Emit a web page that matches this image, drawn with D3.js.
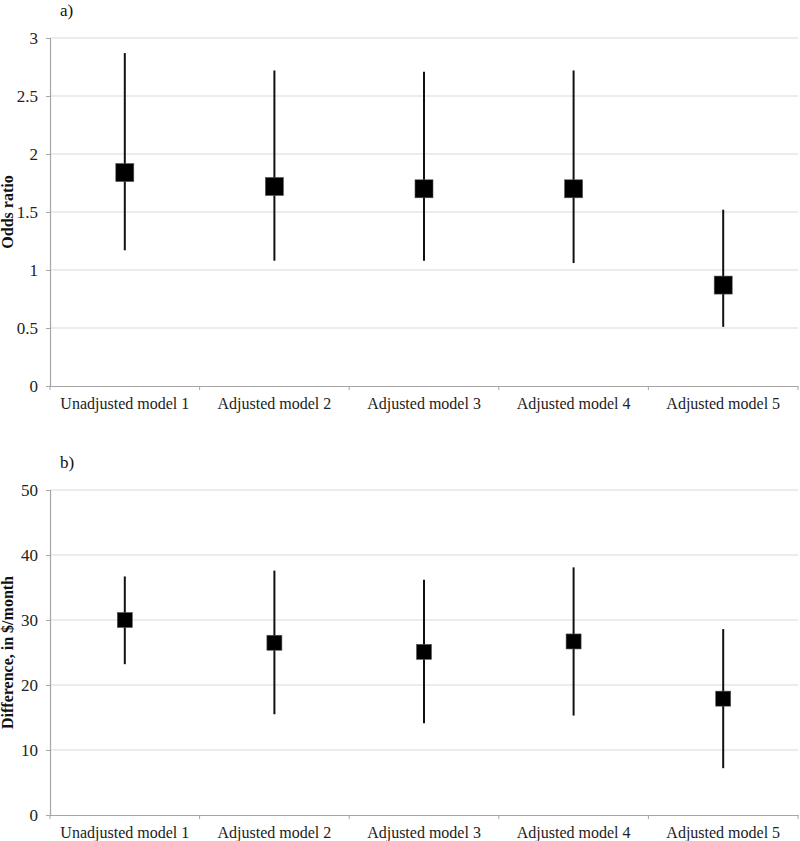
<!DOCTYPE html>
<html>
<head>
<meta charset="utf-8">
<script src="https://cdn.jsdelivr.net/npm/d3@7"></script>
<style>
  body { margin: 0; background: #fff; }
  text { font-family: 'Liberation Serif', 'Times New Roman', serif; }
</style>
</head>
<body>
<div id="chart"></div>
<script>
const models = ['Unadjusted model 1', 'Adjusted model 2', 'Adjusted model 3', 'Adjusted model 4', 'Adjusted model 5'];

// panel a) odds ratio
const orEst = [1.84, 1.72, 1.70, 1.70, 0.87];
const orLow = [1.17, 1.08, 1.08, 1.06, 0.51];
const orHigh = [2.87, 2.72, 2.71, 2.72, 1.52];
const orTicks = [0, 0.5, 1, 1.5, 2, 2.5, 3];

// panel b) difference in $/month
const diffEst = [30.0, 26.5, 25.1, 26.7, 17.9];
const diffLow = [23.2, 15.5, 14.1, 15.3, 7.2];
const diffHigh = [36.7, 37.6, 36.2, 38.1, 28.6];
const diffTicks = [0, 10, 20, 30, 40, 50];

const width = 800, height = 841;
const svg = d3.select('#chart').append('svg')
    .attr('width', width)
    .attr('height', height);

const x = d3.scaleBand()
    .domain(models)
    .range([50, 798]);

function drawPanel(opts) {
    const y = d3.scaleLinear()
        .domain([0, opts.max])
        .range([opts.bottom, opts.top]);

    const g = svg.append('g');

    // gridlines
    g.selectAll('line.grid')
        .data(opts.ticks.filter(d => d > 0))
        .enter().append('line')
        .attr('class', 'grid')
        .attr('x1', 50)
        .attr('x2', 798)
        .attr('y1', d => y(d))
        .attr('y2', d => y(d))
        .attr('stroke', '#d9d9d9')
        .attr('stroke-width', 1.2);

    // y axis
    const yAxis = g.append('g')
        .attr('transform', 'translate(50,0)')
        .call(d3.axisLeft(y).tickValues(opts.ticks).tickSize(4).tickPadding(8).tickFormat(d3.format('')));
    yAxis.select('.domain').attr('stroke', '#a6a6a6').attr('stroke-width', 1.2);
    yAxis.selectAll('.tick line').attr('stroke', '#a6a6a6');
    yAxis.selectAll('.tick text')
        .attr('font-family', "'Liberation Serif', serif")
        .attr('font-size', 17)
        .attr('fill', '#222');

    // x axis
    const xAxis = g.append('g')
        .attr('transform', `translate(0,${opts.bottom})`)
        .call(d3.axisBottom(x).tickSize(0).tickPadding(12).tickSizeOuter(0));
    xAxis.select('.domain').attr('stroke', '#a6a6a6').attr('stroke-width', 1.2);
    xAxis.selectAll('.tick text')
        .attr('font-family', "'Liberation Serif', serif")
        .attr('font-size', 16)
        .attr('fill', '#222');

    // category boundary ticks
    g.selectAll('line.bound')
        .data(models.concat(['end']))
        .enter().append('line')
        .attr('class', 'bound')
        .attr('x1', (d, i) => i < models.length ? x(d) : x(models[models.length - 1]) + x.bandwidth())
        .attr('x2', (d, i) => i < models.length ? x(d) : x(models[models.length - 1]) + x.bandwidth())
        .attr('y1', opts.bottom)
        .attr('y2', opts.bottom + 4)
        .attr('stroke', '#a6a6a6');

    // error bars
    const cx = d => x(d) + x.bandwidth() / 2;
    g.selectAll('line.err')
        .data(models)
        .enter().append('line')
        .attr('class', 'err')
        .attr('x1', cx)
        .attr('x2', cx)
        .attr('y1', (d, i) => y(opts.low[i]))
        .attr('y2', (d, i) => y(opts.high[i]))
        .attr('stroke', '#111')
        .attr('stroke-width', 2);

    // point estimates
    const s = opts.size;
    g.selectAll('rect.pt')
        .data(models)
        .enter().append('rect')
        .attr('class', 'pt')
        .attr('x', d => cx(d) - s / 2)
        .attr('y', (d, i) => y(opts.est[i]) - s / 2)
        .attr('width', s)
        .attr('height', s)
        .attr('fill', '#000')
        .attr('stroke', '#555')
        .attr('stroke-width', 0.6);

    // y title
    svg.append('text')
        .attr('transform', `translate(13,${(opts.top + opts.bottom) / 2}) rotate(-90)`)
        .attr('text-anchor', 'middle')
        .attr('font-size', 16)
        .attr('font-weight', 'bold')
        .attr('fill', '#111')
        .text(opts.title);

    // panel letter
    svg.append('text')
        .attr('x', 60)
        .attr('y', opts.top - 22)
        .attr('font-size', 17)
        .attr('fill', '#111')
        .text(opts.letter);
}

drawPanel({
    letter: 'a)', title: 'Odds ratio',
    max: 3, ticks: orTicks, top: 38, bottom: 386,
    est: orEst, low: orLow, high: orHigh, size: 18
});

drawPanel({
    letter: 'b)', title: 'Difference, in $/month',
    max: 50, ticks: diffTicks, top: 490, bottom: 815,
    est: diffEst, low: diffLow, high: diffHigh, size: 15
});
</script>
</body>
</html>
